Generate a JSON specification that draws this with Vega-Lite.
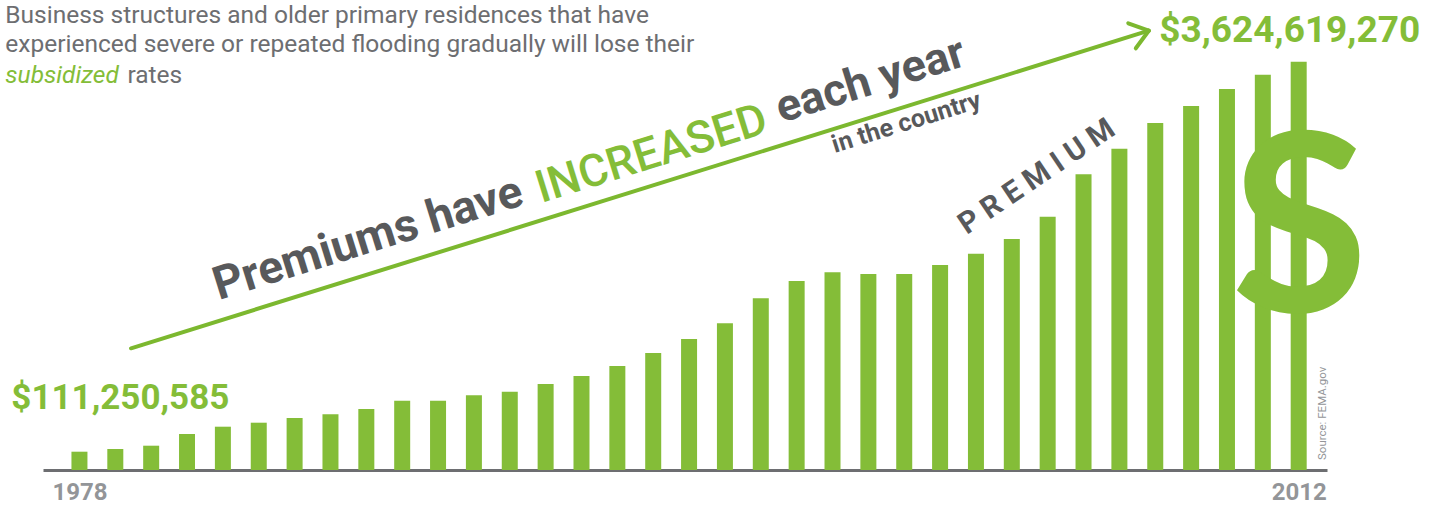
{
  "$schema": "https://vega.github.io/schema/vega-lite/v6.json",
  "width": 1284,
  "height": 470,
  "autosize": {"type": "none"},
  "padding": {"left": 43, "top": 0, "right": 110, "bottom": 35},
  "background": "white",
  "config": {"view": {"stroke": null}},
  "datasets": {
    "premiums": [
      {"year": 1978, "premium": 111250585},
      {"year": 1979, "premium": 135600000},
      {"year": 1980, "premium": 165300000},
      {"year": 1981, "premium": 270700000},
      {"year": 1982, "premium": 336500000},
      {"year": 1983, "premium": 372500000},
      {"year": 1984, "premium": 414800000},
      {"year": 1985, "premium": 448200000},
      {"year": 1986, "premium": 495900000},
      {"year": 1987, "premium": 570700000},
      {"year": 1988, "premium": 570700000},
      {"year": 1989, "premium": 619300000},
      {"year": 1990, "premium": 651800000},
      {"year": 1991, "premium": 721100000},
      {"year": 1992, "premium": 793200000},
      {"year": 1993, "premium": 883300000},
      {"year": 1994, "premium": 1000400000},
      {"year": 1995, "premium": 1126500000},
      {"year": 1996, "premium": 1267900000},
      {"year": 1997, "premium": 1493200000},
      {"year": 1998, "premium": 1649000000},
      {"year": 1999, "premium": 1727400000},
      {"year": 2000, "premium": 1712100000},
      {"year": 2001, "premium": 1712100000},
      {"year": 2002, "premium": 1793200000},
      {"year": 2003, "premium": 1895000000},
      {"year": 2004, "premium": 2027400000},
      {"year": 2005, "premium": 2228300000},
      {"year": 2006, "premium": 2610300000},
      {"year": 2007, "premium": 2840800000},
      {"year": 2008, "premium": 3072400000},
      {"year": 2009, "premium": 3225500000},
      {"year": 2010, "premium": 3378700000},
      {"year": 2011, "premium": 3507500000},
      {"year": 2012, "premium": 3624619270}
    ],
    "arrow": [
      {"xa": 1979.439, "ya": 1042700000, "xb": 2007.818, "yb": 3903800000},
      {"xa": 2007.248, "ya": 3970500000, "xb": 2007.818, "yb": 3903800000},
      {"xa": 2007.458, "ya": 3745300000, "xb": 2007.818, "yb": 3903800000}
    ]
  },
  "layer": [
    {
      "data": {"name": "premiums"},
      "mark": {"type": "bar", "width": 16, "color": "#84bd38"},
      "encoding": {
        "x": {
          "field": "year", "type": "quantitative",
          "scale": {"domain": [1977.123, 2012.65], "nice": false, "zero": false},
          "axis": {
            "values": [1978, 2012], "format": "d", "ticks": false, "grid": false,
            "domainColor": "#6d6e71", "domainWidth": 3, "title": null,
            "labelFont": "Roboto", "labelFontWeight": "bold",
            "labelFontSize": 24, "labelColor": "#939598",
            "labelBaseline": "alphabetic", "labelPadding": 29,
            "labelFlush": false, "labelOverlap": false, "labelBound": false
          }
        },
        "y": {
          "field": "premium", "type": "quantitative",
          "scale": {"domain": [-53600000, 4180400000], "nice": false, "zero": false},
          "axis": null
        },
        "y2": {"datum": -53600000}
      }
    },
    {
      "data": {"name": "arrow"},
      "mark": {"type": "rule", "color": "#7cb82f", "strokeWidth": 4, "strokeCap": "round"},
      "encoding": {
        "x": {"field": "xa", "type": "quantitative"},
        "y": {"field": "ya", "type": "quantitative"},
        "x2": {"field": "xb"},
        "y2": {"field": "yb"}
      }
    },
    {
      "data": {"values": [{"t": "Business structures and older primary residences that have"}]},
      "mark": {"type": "text", "font": "Roboto", "fontSize": 24.5, "color": "#6d6e71", "align": "left", "baseline": "alphabetic"},
      "encoding": {"x": {"datum": 1975.933}, "y": {"datum": 3973200000}, "text": {"field": "t"}}
    },
    {
      "data": {"values": [{"t": "experienced severe or repeated flooding gradually will lose their"}]},
      "mark": {"type": "text", "font": "Roboto", "fontSize": 24.5, "color": "#6d6e71", "align": "left", "baseline": "alphabetic"},
      "encoding": {"x": {"datum": 1975.933}, "y": {"datum": 3712000000}, "text": {"field": "t"}}
    },
    {
      "data": {"values": [{"t": "subsidized"}]},
      "mark": {"type": "text", "font": "Roboto", "fontSize": 24.5, "fontStyle": "italic", "color": "#84bd38", "align": "left", "baseline": "alphabetic"},
      "encoding": {"x": {"datum": 1975.933}, "y": {"datum": 3432700000}, "text": {"field": "t"}}
    },
    {
      "data": {"values": [{"t": "rates"}]},
      "mark": {"type": "text", "font": "Roboto", "fontSize": 24.5, "color": "#6d6e71", "align": "left", "baseline": "alphabetic"},
      "encoding": {"x": {"datum": 1979.337}, "y": {"datum": 3432700000}, "text": {"field": "t"}}
    },
    {
      "data": {"values": [{"t": "$111,250,585"}]},
      "mark": {"type": "text", "font": "Roboto", "fontWeight": "bold", "fontSize": 35, "color": "#84bd38", "align": "left", "baseline": "alphabetic"},
      "encoding": {"x": {"datum": 1976.1}, "y": {"datum": 495900000}, "text": {"field": "t"}}
    },
    {
      "data": {"values": [{"t": "$3,624,619,270"}]},
      "mark": {"type": "text", "font": "Roboto", "fontWeight": "bold", "fontSize": 37, "color": "#84bd38", "align": "left", "baseline": "alphabetic"},
      "encoding": {"x": {"datum": 2008.113}, "y": {"datum": 3804700000}, "text": {"field": "t"}}
    },
    {
      "data": {"values": [{"t": "Premiums have"}]},
      "mark": {"type": "text", "font": "Roboto", "fontWeight": "bold", "fontSize": 46, "color": "#58595b", "align": "left", "baseline": "alphabetic", "angle": -17.3},
      "encoding": {"x": {"datum": 1981.882}, "y": {"datum": 1477800000}, "text": {"field": "t"}}
    },
    {
      "data": {"values": [{"t": "INCREASED"}]},
      "mark": {"type": "text", "font": "Roboto", "fontWeight": 500, "fontSize": 45, "color": "#84bd38", "align": "left", "baseline": "alphabetic", "angle": -17.3},
      "encoding": {"x": {"datum": 1990.875}, "y": {"datum": 2351700000}, "text": {"field": "t"}}
    },
    {
      "data": {"values": [{"t": "each year"}]},
      "mark": {"type": "text", "font": "Roboto", "fontWeight": "bold", "fontSize": 45, "color": "#58595b", "align": "left", "baseline": "alphabetic", "angle": -17.3},
      "encoding": {"x": {"datum": 1997.571}, "y": {"datum": 3072300000}, "text": {"field": "t"}}
    },
    {
      "data": {"values": [{"t": "in the country"}]},
      "mark": {"type": "text", "font": "Roboto", "fontWeight": "bold", "fontSize": 25, "color": "#58595b", "align": "left", "baseline": "alphabetic", "angle": -17.3},
      "encoding": {"x": {"datum": 1999.065}, "y": {"datum": 2802100000}, "text": {"field": "t"}}
    },
    {
      "data": {"values": [{"t": "P R E M I U M"}]},
      "mark": {"type": "text", "font": "Roboto", "fontWeight": "bold", "fontSize": 30, "color": "#58595b", "align": "left", "baseline": "alphabetic", "angle": -34},
      "encoding": {"x": {"datum": 2002.745}, "y": {"datum": 2063400000}, "text": {"field": "t"}}
    },
    {
      "data": {"values": [{"t": "S"}]},
      "mark": {"type": "text", "font": "Lato", "fontWeight": "bold", "fontSize": 250, "color": "#84bd38", "align": "center", "baseline": "alphabetic"},
      "encoding": {"x": {"datum": 2012.03}, "y": {"datum": 1369700000}, "text": {"field": "t"}}
    },
    {
      "data": {"values": [{"t": "Source: FEMA.gov"}]},
      "mark": {"type": "text", "font": "Roboto", "fontSize": 11.5, "color": "#939598", "align": "left", "baseline": "alphabetic", "angle": 270},
      "encoding": {"x": {"datum": 2012.762}, "y": {"datum": 36400000}, "text": {"field": "t"}}
    }
  ]
}
